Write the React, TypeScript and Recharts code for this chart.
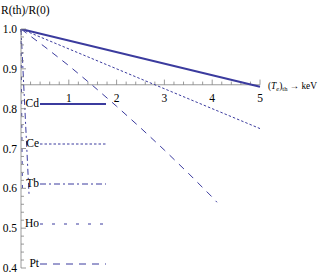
import React from 'react';
import { LineChart, Line, XAxis, YAxis, ReferenceLine, Legend } from 'recharts';

// electron temperature (keV) and ratio R(th)/R(0)
const cdTemp = [0, 5];
const cdRatio = [1.0, 0.855];
const ceTemp = [0, 5];
const ceRatio = [1.0, 0.75];
const tbTemp = [0, 0.17];
const tbRatio = [1.0, 0.58];
const hoTemp = [0, 0.03];
const hoRatio = [1.0, 0.58];
const ptTemp = [0, 0.5, 1, 1.5, 2, 2.5, 3, 3.5, 4, 4.1];
const ptRatio = [1.0, 0.955, 0.908, 0.858, 0.806, 0.752, 0.696, 0.638, 0.578, 0.565];

const xMajorTicks = [1, 2, 3, 4, 5];
const xMinorTicks = [0.2, 0.4, 0.6, 0.8, 1.2, 1.4, 1.6, 1.8, 2.2, 2.4, 2.6, 2.8, 3.2, 3.4, 3.6, 3.8, 4.2, 4.4, 4.6, 4.8];
const yMajorTicks = [0.4, 0.5, 0.6, 0.7, 0.8, 0.9, 1.0];
const yMinorTicks = [
  0.42, 0.44, 0.46, 0.48, 0.52, 0.54, 0.56, 0.58, 0.62, 0.64, 0.66, 0.68,
  0.72, 0.74, 0.76, 0.78, 0.82, 0.84, 0.86, 0.88, 0.92, 0.94, 0.96, 0.98,
];
const axisCrossing = 0.86;

const toPoints = (xs: number[], ys: number[]) => xs.map((x, i) => ({ x, y: ys[i] }));

const series = [
  { name: 'Cd', data: toPoints(cdTemp, cdRatio), dash: undefined, width: 2 },
  { name: 'Ce', data: toPoints(ceTemp, ceRatio), dash: '2.5 2', width: 1 },
  { name: 'Tb', data: toPoints(tbTemp, tbRatio), dash: '6 3 2 3', width: 1 },
  { name: 'Ho', data: toPoints(hoTemp, hoRatio), dash: '3 9', width: 1 },
  { name: 'Pt', data: toPoints(ptTemp, ptRatio), dash: '7 6', width: 1 },
];

const FONT = 'Liberation Serif, serif';
const LINE = '#3b3b9e';
const AXIS = '#808080';

const isMajor = (v: number) => Math.abs(v * 10 - Math.round(v * 10)) < 1e-6;

const YTick = (props: any) => {
  const { x, y, payload } = props;
  const v = payload.value;
  const major = isMajor(v);
  const ax = x + 3;
  return (
    <g>
      <line x1={ax} x2={ax + (major ? 5 : 3)} y1={y} y2={y} stroke={AXIS} strokeWidth={0.8} />
      {major && (
        <text x={x - 1} y={y} dy="0.35em" textAnchor="end" fontSize={11.5} style={{ fontFamily: FONT }} fill="#000">
          {v.toFixed(1)}
        </text>
      )}
    </g>
  );
};

const AxisTitle = ({ viewBox }: any) => {
  const x = viewBox.x + viewBox.width + 8;
  const y = viewBox.y + 4;
  return (
    <text x={x} y={y} fontSize={10} style={{ fontFamily: FONT }} fill="#000" textLength={49} lengthAdjust="spacingAndGlyphs">
      (<tspan fontStyle="italic">T</tspan>
      <tspan fontStyle="italic" fontSize={7} dy={2}>e</tspan>
      <tspan dy={-2}>)</tspan>
      <tspan fontSize={7} dy={2}>th</tspan>
      <tspan dy={-2}> → keV</tspan>
    </text>
  );
};

const YTitle = ({ viewBox }: any) => (
  <text x={viewBox.x + 1} y={viewBox.y - 15} fontSize={11.5} style={{ fontFamily: FONT }} fill="#000">
    R(th)/R(0)
  </text>
);

const LegendBox = () => (
  <div style={{ fontFamily: FONT, fontSize: 11.5, color: '#000' }}>
    {series.map((s) => (
      <div key={s.name} style={{ display: 'flex', alignItems: 'center', height: 40 }}>
        <span style={{ width: 14, textAlign: 'right', marginRight: 1, lineHeight: 1 }}>{s.name}</span>
        <svg width={66} height={4}>
          <line x1={0} x2={66} y1={2} y2={2} stroke={LINE} strokeWidth={s.width} strokeDasharray={s.dash} />
        </svg>
      </div>
    ))}
  </div>
);

export default function App() {
  return (
    <div style={{ position: 'absolute', left: 0, top: 0, width: 319, height: 277, background: '#fff' }}>
      <LineChart width={319} height={277} margin={{ top: 29, right: 59, bottom: 9, left: 0 }}>
        <XAxis type="number" dataKey="x" domain={[0, 5]} hide />
        <YAxis
          type="number"
          domain={[0.4, 1.0]}
          ticks={[...yMajorTicks, ...yMinorTicks].sort((a, b) => a - b)}
          interval={0}
          width={21}
          tickSize={0}
          tickMargin={3}
          tickLine={false}
          axisLine={{ stroke: AXIS, strokeWidth: 0.8 }}
          tick={<YTick />}
          allowDataOverflow
          label={{ content: (p: any) => <YTitle viewBox={p.viewBox} /> }}
        />
        <ReferenceLine
          segment={[{ x: 0, y: axisCrossing }, { x: 5, y: axisCrossing }]}
          stroke={AXIS}
          strokeWidth={0.8}
          ifOverflow="visible"
          label={{ content: (p: any) => <AxisTitle viewBox={p.viewBox} /> }}
        />
        {xMinorTicks.map((t) => (
          <ReferenceLine
            key={`mn-${t}`}
            segment={[{ x: t, y: axisCrossing }, { x: t, y: axisCrossing + 0.008 }]}
            stroke={AXIS}
            strokeWidth={0.8}
          />
        ))}
        {xMajorTicks.map((t) => (
          <ReferenceLine
            key={`mj-${t}`}
            segment={[{ x: t, y: axisCrossing }, { x: t, y: axisCrossing + 0.013 }]}
            stroke={AXIS}
            strokeWidth={0.8}
            label={{ value: String(t), position: 'bottom', offset: 9, fontSize: 11.5, style: { fontFamily: FONT }, fill: '#000' }}
          />
        ))}
        {series.map((s) => (
          <Line
            key={s.name}
            data={s.data}
            dataKey="y"
            name={s.name}
            type="linear"
            stroke={LINE}
            strokeWidth={s.width}
            strokeDasharray={s.dash}
            dot={false}
            isAnimationActive={false}
          />
        ))}
        <Legend
          layout="horizontal"
          verticalAlign="middle"
          align="center"
          wrapperStyle={{ position: 'absolute', left: 25, top: 84, width: 90, height: 200 }}
          content={() => <LegendBox />}
        />
      </LineChart>
    </div>
  );
}
